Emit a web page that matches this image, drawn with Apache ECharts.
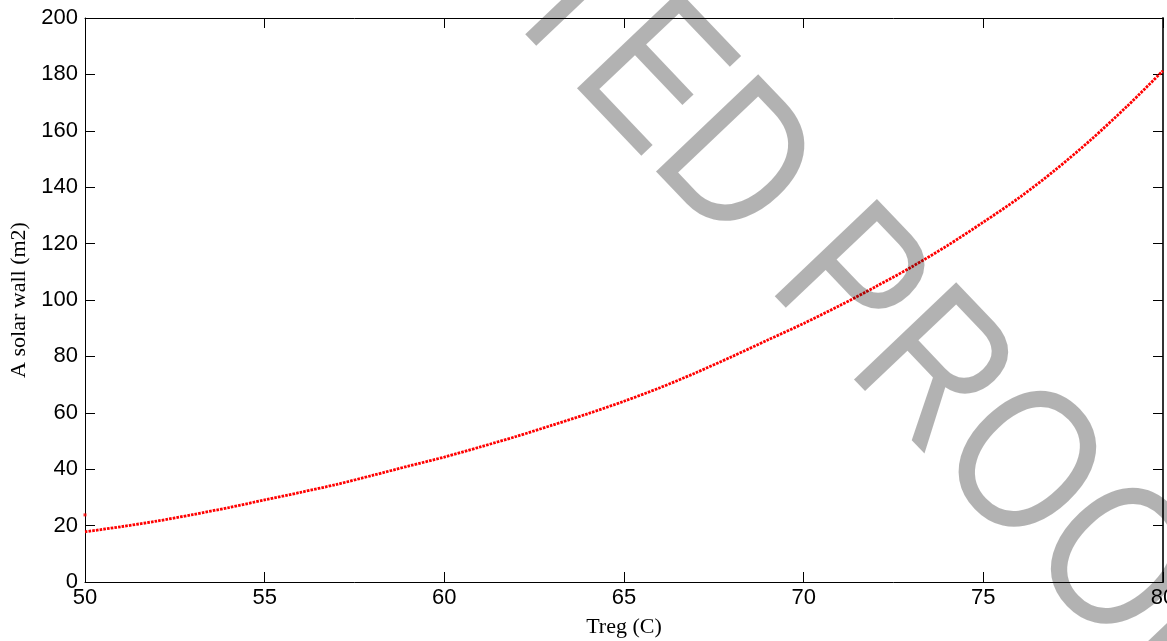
<!DOCTYPE html>
<html>
<head>
<meta charset="utf-8">
<title>A solar wall vs Treg</title>
<script src="https://cdn.jsdelivr.net/npm/echarts@6/dist/echarts.min.js"></script>
<style>
  html, body { margin: 0; padding: 0; background: #fff; }
  #chart { width: 1167px; height: 641px; }
</style>
</head>
<body>
<div id="chart"></div>
<script>
// values (Treg in C, area in m2)
var tregValues = [50, 51, 52, 53, 54, 55, 56, 57, 58, 59, 60, 61, 62, 63, 64, 65,
                  66, 67, 68, 69, 70, 71, 72, 73, 74, 75, 76, 77, 78, 79, 80];
var areaValues = [17.8, 19.6, 21.6, 23.9, 26.4, 29.1, 31.8, 34.6, 37.8, 41.1, 44.3,
                  47.9, 51.6, 55.6, 59.7, 64.1, 68.9, 74.2, 79.9, 85.8, 91.7,
                  98.0, 104.7, 111.7, 119.3, 127.6, 136.3, 146.1, 156.9, 168.7, 181.3];
// lone first point sitting on the left edge
var firstPoint = [50, 23.8];

var xMin = 50, xMax = 80, xStep = 5;
var yMin = 0, yMax = 200, yStep = 20;

var watermark = ['UNCORRECTED ', 'PROOF'];

var chart = echarts.init(document.getElementById('chart'));

var lineData = [];
for (var i = 0; i < tregValues.length; i++) {
  lineData.push([tregValues[i], areaValues[i]]);
}

var labelFont = { color: '#000', fontSize: 22, fontFamily: '"Liberation Sans", Arial, sans-serif' };
var nameFont = { color: '#000', fontSize: 22, fontFamily: '"Liberation Serif", "Times New Roman", serif' };
var spine = { show: true, onZero: false, lineStyle: { color: '#000', width: 1 } };
var tick = { show: true, inside: true, length: 10, lineStyle: { color: '#000', width: 1 } };

var wmStyle = function (txt, align) {
  return {
    text: txt,
    font: '205px "Liberation Sans", Arial, sans-serif',
    fill: 'rgba(0,0,0,0.3)',
    align: align, textAlign: align,
    verticalAlign: 'middle', textVerticalAlign: 'middle'
  };
};

var option = {
  animation: false,
  backgroundColor: '#fff',
  grid: { left: 85, right: 4, top: 18, bottom: 59, containLabel: false, outerBoundsMode: 'none' },
  xAxis: [{
    type: 'value', min: xMin, max: xMax, interval: xStep,
    name: 'Treg (C)', nameLocation: 'middle', nameGap: 34, nameTextStyle: nameFont,
    axisLine: spine, axisTick: tick,
    axisLabel: Object.assign({ margin: 5 }, labelFont),
    splitLine: { show: false }
  }, {
    type: 'value', position: 'top', min: xMin, max: xMax, interval: xStep,
    axisLine: spine, axisTick: tick, axisLabel: { show: false }, splitLine: { show: false }
  }],
  yAxis: [{
    type: 'value', min: yMin, max: yMax, interval: yStep,
    name: 'A solar wall (m2)', nameLocation: 'middle', nameGap: 54, nameRotate: 90, nameTextStyle: nameFont,
    axisLine: spine, axisTick: tick,
    axisLabel: Object.assign({ margin: 7 }, labelFont),
    splitLine: { show: false }
  }, {
    type: 'value', position: 'right', min: yMin, max: yMax, interval: yStep,
    axisLine: { show: true, onZero: false, lineStyle: { color: '#333', width: 2 } },
    axisTick: tick, axisLabel: { show: false }, splitLine: { show: false }
  }],
  series: [{
    type: 'line',
    data: lineData,
    smooth: 0.3,
    showSymbol: false,
    clip: false,
    lineStyle: { color: '#ff0000', width: 2.8, type: [2.6, 1.1], cap: 'butt' }
  }, {
    type: 'scatter',
    data: [firstPoint],
    symbol: 'rect',
    symbolSize: 3,
    clip: false,
    itemStyle: { color: '#ff0000' }
  }],
  graphic: [
    { type: 'text', x: 806, y: 247, rotation: -0.81, scaleX: 0.84, z: 100, silent: true, style: wmStyle(watermark[0], 'right') },
    { type: 'text', x: 806, y: 247, rotation: -0.81, scaleX: 0.84, z: 100, silent: true, style: wmStyle(watermark[1], 'left') }
  ]
};

chart.setOption(option);
</script>
</body>
</html>
